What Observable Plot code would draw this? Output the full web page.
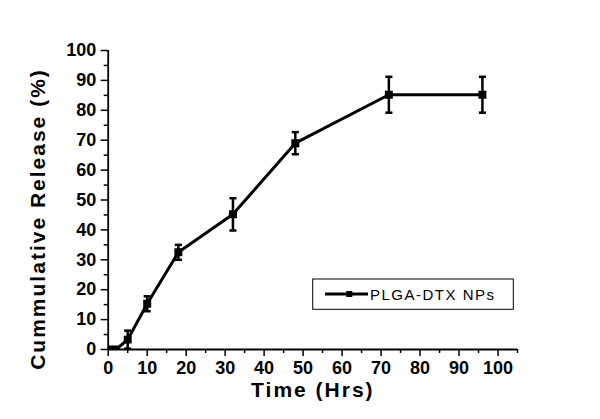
<!DOCTYPE html>
<html>
<head>
<meta charset="utf-8">
<script src="https://cdn.jsdelivr.net/npm/d3@7"></script>
<script src="https://cdn.jsdelivr.net/npm/@observablehq/plot@0.6"></script>
<style>
  html, body { margin: 0; padding: 0; background: #fff; }
  #chart { position: relative; width: 600px; height: 419px; }
  svg { font-family: "Liberation Sans", Arial, sans-serif; color: #000; }
</style>
</head>
<body>
<div id="chart"></div>
<script>
// Data
const time = [0, 2, 5, 10, 18, 32, 48, 72, 96];            // hours
const release = [0, 0, 3.3, 15.3, 32.5, 45.2, 69, 85.2, 85.2]; // cumulative release (%)
const errorBar = [0, 0, 3, 2.5, 2.5, 5.4, 3.7, 6, 6];       // +/- error
const seriesName = "PLGA-DTX NPs";
const xMajorTicks = [0, 10, 20, 30, 40, 50, 60, 70, 80, 90, 100];
const xMinorTicks = [5, 15, 25, 35, 45, 55, 65, 75, 85, 95, 105];
const yMajorTicks = [0, 10, 20, 30, 40, 50, 60, 70, 80, 90, 100];
const yMinorTicks = [5, 15, 25, 35, 45, 55, 65, 75, 85, 95];
const xTitle = "Time (Hrs)";
const yTitle = "Cummulative Release (%)";

const data = time.map((t, i) => ({t, r: release[i], e: errorBar[i]}));
const withErr = data.filter(d => d.e > 0);

const capSymbol = {
  draw(context, size) {
    const w = Math.sqrt(size);
    context.moveTo(-w / 2, 0);
    context.lineTo(w / 2, 0);
  }
};

const tickFont = {fontSize: 18, fontWeight: "bold", fill: "black"};

const plot = Plot.plot({
  width: 600,
  height: 419,
  marginLeft: 107.7,
  marginRight: 83,
  marginTop: 50,
  marginBottom: 70,
  style: {fontFamily: "'Liberation Sans', Arial, sans-serif", color: "black", background: "white"},
  x: {domain: [0, 105]},
  y: {domain: [0, 100]},
  marks: [
    // minor ticks
    Plot.axisX({ticks: xMinorTicks, tickSize: 4, text: null, strokeWidth: 1.5, label: null}),
    Plot.axisY({ticks: yMinorTicks, tickSize: 4, text: null, strokeWidth: 1.5, label: null}),
    // major ticks
    Plot.axisX({ticks: xMajorTicks, tickSize: 7, tickPadding: 5, strokeWidth: 1.5, label: null, ...tickFont}),
    Plot.axisY({ticks: yMajorTicks, tickSize: 7, tickPadding: 5, strokeWidth: 1.5, label: null, ...tickFont}),
    // axis lines
    Plot.ruleY([0], {stroke: "black", strokeWidth: 1.8}),
    Plot.ruleX([0], {stroke: "black", strokeWidth: 1.8}),
    // error bars
    Plot.ruleX(withErr, {x: "t", y1: d => d.r - d.e, y2: d => d.r + d.e, stroke: "black", strokeWidth: 2.5}),
    Plot.dot(withErr, {x: "t", y: d => d.r - d.e, symbol: capSymbol, r: 4, stroke: "black", strokeWidth: 2.5}),
    Plot.dot(withErr, {x: "t", y: d => d.r + d.e, symbol: capSymbol, r: 4, stroke: "black", strokeWidth: 2.5}),
    // series line and markers
    Plot.line(data, {x: "t", y: "r", stroke: "black", strokeWidth: 3, clip: "frame"}),
    Plot.dot(data, {x: "t", y: "r", symbol: "square", r: 4.5, fill: "black", stroke: "none", clip: "frame"}),
    // axis titles
    Plot.text([xTitle], {frameAnchor: "bottom", lineAnchor: "bottom", textAnchor: "middle", dy: 47, fontSize: 21, fontWeight: "bold", fill: "black", text: d => d}),
    Plot.text([yTitle], {frameAnchor: "left", lineAnchor: "bottom", textAnchor: "middle", rotate: -90, dx: -62.7, dy: 19, fontSize: 21, fontWeight: "bold", fill: "black", text: d => d})
  ]
});

// letter-spacing on titles
d3.select(plot).selectAll("text").filter(function() {
  const t = this.textContent;
  return t === xTitle || t === yTitle;
}).style("letter-spacing", "2px");

// Legend (inside plot area)
const svg = d3.select(plot);
const lg = svg.append("g").attr("class", "legend");
lg.append("rect").attr("x", 312.7).attr("y", 279).attr("width", 200.6).attr("height", 30.3)
  .attr("fill", "white").attr("stroke", "black").attr("stroke-width", 1);
lg.append("line").attr("x1", 325).attr("x2", 368).attr("y1", 294).attr("y2", 294)
  .attr("stroke", "black").attr("stroke-width", 3);
lg.append("rect").attr("x", 346.3).attr("y", 291).attr("width", 6).attr("height", 6).attr("fill", "black");
lg.append("text").attr("x", 370).attr("y", 299.5).attr("font-size", 15).attr("fill", "black")
  .attr("text-anchor", "start").style("letter-spacing", "1.5px").text(seriesName);

document.getElementById("chart").appendChild(plot);
</script>
</body>
</html>
